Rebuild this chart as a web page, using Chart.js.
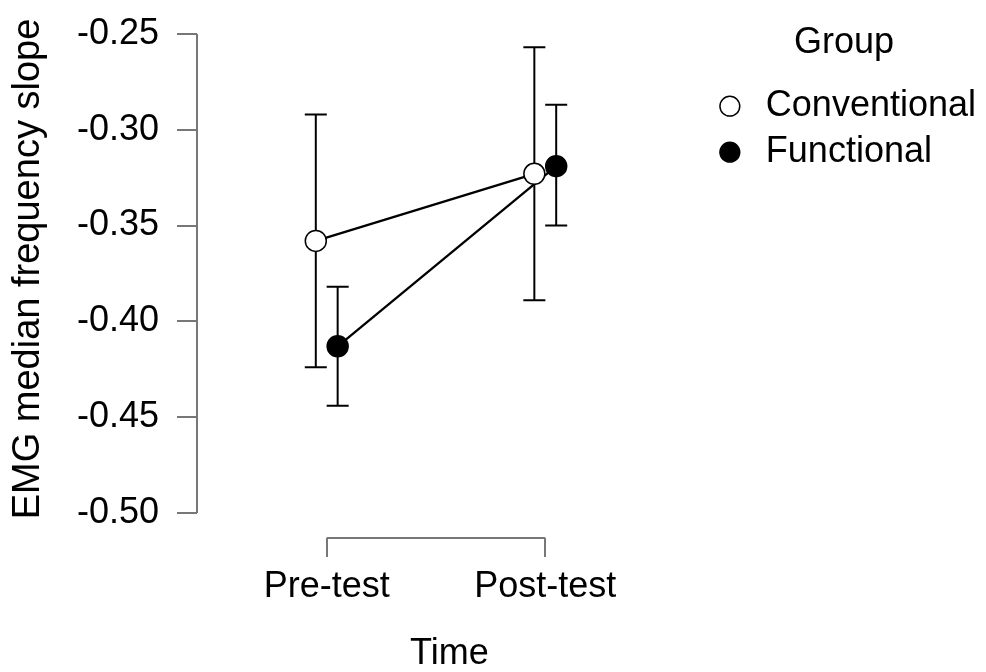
<!DOCTYPE html>
<html>
<head>
<meta charset="utf-8">
<title>EMG median frequency slope</title>
<script src="https://cdn.jsdelivr.net/npm/chart.js@4.4.0/dist/chart.umd.min.js"></script>
<style>
    html, body { margin: 0; padding: 0; background: #fff; }
    #wrap { position: relative; width: 986px; height: 672px; }
</style>
</head>
<body>
<div id="wrap"><canvas id="chart"></canvas></div>
<script>
const categories = ['Pre-test', 'Post-test'];
const groups = ['Conventional', 'Functional'];

const conventionalMean = [-0.358, -0.323];
const conventionalLower = [-0.424, -0.389];
const conventionalUpper = [-0.292, -0.257];

const functionalMean = [-0.413, -0.319];
const functionalLower = [-0.444, -0.350];
const functionalUpper = [-0.382, -0.287];

const yTicks = [-0.50, -0.45, -0.40, -0.35, -0.30, -0.25];

const DODGE = 0.05;
const AXIS_COLOR = '#777777';

Chart.defaults.font.family = "'Liberation Sans', Arial, sans-serif";
Chart.defaults.color = '#000';

function meanPoints(means, shift) {
    return means.map((y, i) => ({ x: i + shift, y: y }));
}

// vertical bar per category, a null y between them breaks the line
function errorPoints(lower, upper, shift) {
    const pts = [];
    lower.forEach((lo, i) => {
        if (i > 0)
            pts.push({ x: i + shift, y: null });
        pts.push({ x: i + shift, y: lo });
        pts.push({ x: i + shift, y: upper[i] });
    });
    return pts;
}

// JASP style axes: y line only over the tick range, x as a bracket between categories
const axisLines = {
    id: 'axisLines',
    beforeDatasetsDraw(chart) {
        const { ctx, chartArea, scales: { x, y } } = chart;
        ctx.save();
        ctx.strokeStyle = AXIS_COLOR;
        ctx.lineWidth = 2;
        ctx.beginPath();
        ctx.moveTo(chartArea.left, y.getPixelForValue(yTicks[yTicks.length - 1]));
        ctx.lineTo(chartArea.left, y.getPixelForValue(yTicks[0]));
        ctx.moveTo(x.getPixelForValue(0), chartArea.bottom);
        ctx.lineTo(x.getPixelForValue(categories.length - 1), chartArea.bottom);
        ctx.stroke();
        ctx.restore();
    }
};

new Chart(document.getElementById('chart'), {
    type: 'line',
    data: {
        datasets: [
            {
                label: groups[0],
                data: meanPoints(conventionalMean, -DODGE),
                borderColor: '#000',
                borderWidth: 2.3,
                pointStyle: 'circle',
                pointRadius: 10.5,
                pointBackgroundColor: '#fff',
                pointBorderColor: '#000',
                pointBorderWidth: 1.5,
                order: 0
            },
            {
                label: groups[1],
                data: meanPoints(functionalMean, DODGE),
                borderColor: '#000',
                borderWidth: 2.3,
                pointStyle: 'circle',
                pointRadius: 10.5,
                pointBackgroundColor: '#000',
                pointBorderColor: '#000',
                pointBorderWidth: 1.5,
                order: 1
            },
            {
                label: groups[0] + ' CI',
                data: errorPoints(conventionalLower, conventionalUpper, -DODGE),
                borderColor: '#000',
                borderWidth: 2,
                pointStyle: 'line',
                pointRadius: 11,
                pointBorderColor: '#000',
                pointBorderWidth: 2,
                spanGaps: false,
                order: 2
            },
            {
                label: groups[1] + ' CI',
                data: errorPoints(functionalLower, functionalUpper, DODGE),
                borderColor: '#000',
                borderWidth: 2,
                pointStyle: 'line',
                pointRadius: 11,
                pointBorderColor: '#000',
                pointBorderWidth: 2,
                spanGaps: false,
                order: 3
            }
        ]
    },
    options: {
        responsive: true,
        maintainAspectRatio: false,
        animation: false,
        events: [],
        layout: { padding: 0, autoPadding: false },
        plugins: {
            tooltip: { enabled: false },
            legend: {
                position: 'right',
                align: 'start',
                maxWidth: 320,
                labels: {
                    usePointStyle: true,
                    boxHeight: 14,
                    padding: 10,
                    color: '#000',
                    font: { size: 36 },
                    filter: item => item.datasetIndex < groups.length
                },
                title: {
                    display: true,
                    text: 'Group',
                    color: '#000',
                    font: { size: 36 },
                    padding: { top: 25, bottom: 10 }
                }
            }
        },
        scales: {
            x: {
                type: 'linear',
                bounds: 'data',
                min: -0.5936,
                max: 1.7165,
                afterBuildTicks: scale => {
                    scale.ticks = categories.map((c, i) => ({ value: i }));
                },
                afterFit: scale => {
                    scale.height = 134;
                    scale.paddingLeft = 0;
                    scale.paddingRight = 0;
                },
                border: { display: false },
                grid: {
                    drawOnChartArea: false,
                    tickLength: 19,
                    color: AXIS_COLOR,
                    lineWidth: 2
                },
                ticks: {
                    autoSkip: false,
                    maxRotation: 0,
                    padding: 8,
                    color: '#000',
                    font: { size: 36 },
                    callback: (value, index) => categories[index]
                },
                title: {
                    display: true,
                    text: 'Time',
                    color: '#000',
                    font: { size: 36, lineHeight: 1 },
                    padding: { top: 0, bottom: 0 }
                }
            },
            y: {
                type: 'linear',
                bounds: 'data',
                min: -0.51305,
                max: -0.2323,
                afterBuildTicks: scale => {
                    scale.ticks = yTicks.map(v => ({ value: v }));
                },
                afterFit: scale => {
                    scale.width = 197;
                    scale.paddingTop = 0;
                    scale.paddingBottom = 0;
                },
                border: { display: false },
                grid: {
                    drawOnChartArea: false,
                    tickLength: 20,
                    color: AXIS_COLOR,
                    lineWidth: 2
                },
                ticks: {
                    padding: 18,
                    color: '#000',
                    font: { size: 36 },
                    callback: value => value.toFixed(2)
                },
                title: {
                    display: true,
                    text: 'EMG median frequency slope',
                    color: '#000',
                    font: { size: 38 },
                    padding: { top: 6, bottom: 0 }
                }
            }
        }
    },
    plugins: [axisLines]
});
</script>
</body>
</html>
